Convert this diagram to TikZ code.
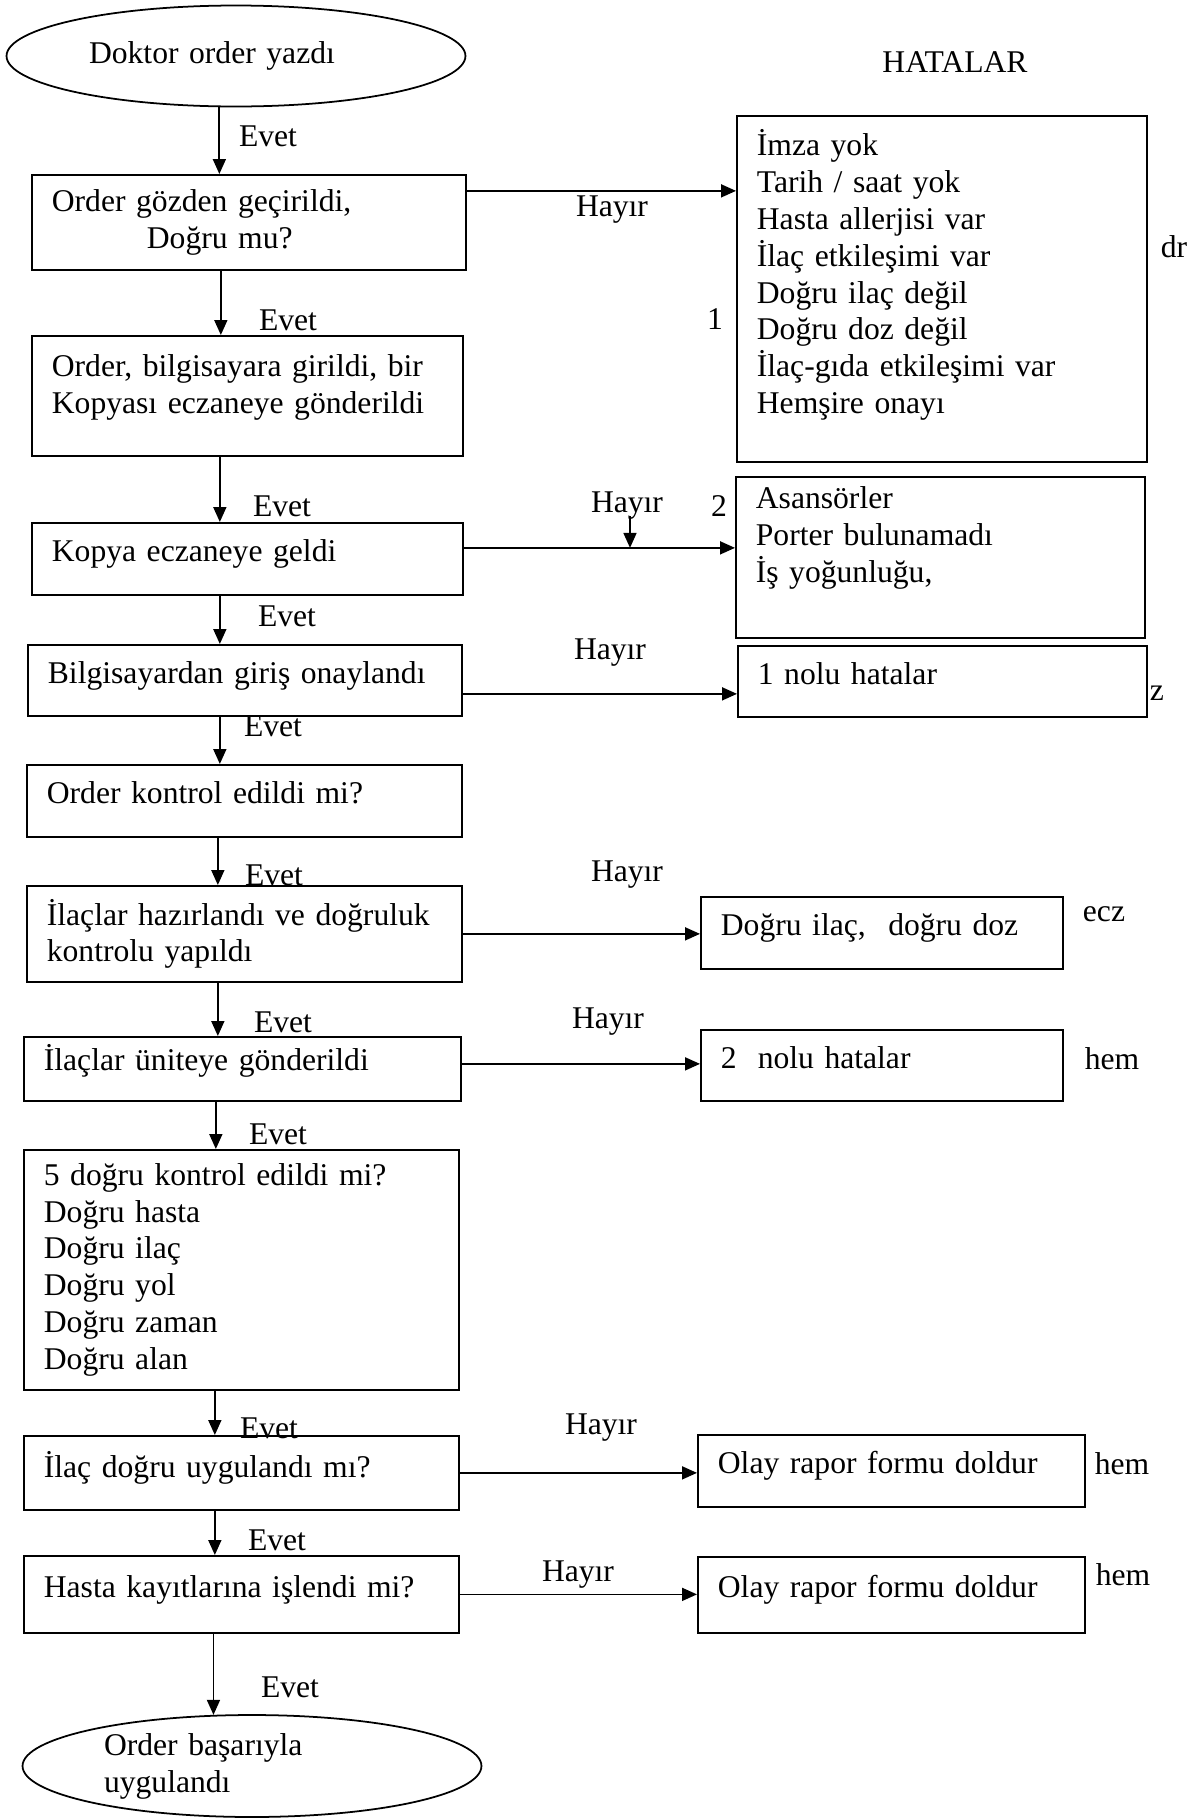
\documentclass[tikz,border=0pt]{standalone}
\usepackage{fontspec}
\setmainfont{Liberation Serif}
\usetikzlibrary{arrows.meta,positioning,shapes.geometric}

\begin{document}
\begin{tikzpicture}[
    x=0.02cm, y=-0.02cm,
    font=\fontsize{18}{21}\selectfont,
    box/.style={draw, line width=1pt, anchor=north west, align=left, inner xsep=0.4cm, inner ysep=0.1cm},
    onebox/.style={box, text depth=0.33cm},
    terminal/.style={draw, ellipse, line width=1pt, align=left, inner sep=0pt, minimum width=9.18cm},
    arr/.style={-{Triangle[length=3mm, width=2.6mm]}, line width=1pt},
    lbl/.style={inner sep=0pt}
]
\useasboundingbox (0,0) rectangle (1194,1819);

% main column
\node[terminal, text width=5.88cm, minimum height=2.02cm] (start) at (236,56) {Doktor order yazdı};
\node[box, text width=7.88cm, minimum height=1.90cm] (gozden) at (31,174) {Order gözden geçirildi,\\\hspace*{1.9cm}Doğru mu?};
\node[box, text width=7.82cm, minimum height=2.40cm, text depth=1.22cm] (girildi) at (31,335) {Order, bilgisayara girildi, bir\\Kopyası eczaneye gönderildi};
\node[onebox, text width=7.82cm, minimum height=1.44cm] (kopya) at (31,522) {Kopya eczaneye geldi};
\node[onebox, text width=7.88cm, minimum height=1.42cm] (onay) at (27,644) {Bilgisayardan giriş onaylandı};
\node[onebox, text width=7.90cm, minimum height=1.44cm] (kontrol) at (26,764) {Order kontrol edildi mi?};
\node[box, text width=7.90cm, minimum height=1.92cm] (hazir) at (26,885) {İlaçlar hazırlandı ve doğruluk\\kontrolu yapıldı};
\node[onebox, text width=7.94cm, minimum height=1.28cm, text depth=0.45cm] (unite) at (23,1036) {İlaçlar üniteye gönderildi};
\node[box, text width=7.90cm, minimum height=4.80cm] (besdogru) at (23,1149) {5 doğru kontrol edildi mi?\\Doğru hasta\\Doğru ilaç\\Doğru yol\\Doğru zaman\\Doğru alan};
\node[onebox, text width=7.90cm, minimum height=1.48cm] (uygula) at (23,1435) {İlaç doğru uygulandı mı?};
\node[onebox, text width=7.90cm, minimum height=1.54cm] (kayit) at (23,1555) {Hasta kayıtlarına işlendi mi?};
\node[terminal, text width=5.92cm, minimum height=2.04cm] (bitti) at (252,1766) {Order başarıyla\\uygulandı};

% error column
\node[lbl] (hatalar) at (955,62) {HATALAR};
\node[box, text width=7.40cm, inner ysep=0.27cm] (hata1) at (736,115) {\parbox[c][6.38cm][t]{7.40cm}{İmza yok\\Tarih / saat yok\\Hasta allerjisi var\\İlaç etkileşimi var\\Doğru ilaç değil\\Doğru doz değil\\İlaç-gıda etkileşimi var\\Hemşire onayı}};
\node[box, text width=7.38cm, inner ysep=0.2cm] (hata2) at (735,476) {\parbox[c][2.82cm][t]{7.38cm}{Asansörler\\Porter bulunamadı\\İş yoğunluğu,}};
\node[onebox, text width=7.38cm, minimum height=1.42cm] (nolu1) at (737,645) {1 nolu hatalar};
\node[onebox, text width=6.44cm, minimum height=1.44cm] (ilacdoz) at (700,896) {Doğru ilaç,\hspace{0.45cm}doğru doz};
\node[onebox, text width=6.44cm, minimum height=1.42cm] (nolu2) at (700,1029) {2\ \ nolu hatalar};
\node[onebox, text width=6.94cm, minimum height=1.44cm] (rapor1) at (697,1434) {Olay rapor formu doldur};
\node[onebox, text width=6.94cm, minimum height=1.52cm] (rapor2) at (697,1556) {Olay rapor formu doldur};

% side notes
\node[lbl] (dr) at (1174,247) {dr};
\node[lbl] (bir) at (715,319) {1};
\node[lbl] (iki) at (719,506) {2};
\node[lbl] (ezz) at (1157,693) {z};
\node[lbl] (ecz) at (1104,914) {ecz};
\node[lbl] (hem1) at (1112,1059) {hem};
\node[lbl] (hem2) at (1122,1464) {hem};
\node[lbl] (hem3) at (1123,1575) {hem};

% Evet labels
\node[lbl] (ev1) at (268,136) {Evet};
\node[lbl] (ev2) at (288,320) {Evet};
\node[lbl] (ev3) at (282,506) {Evet};
\node[lbl] (ev4) at (287,616) {Evet};
\node[lbl] (ev5) at (273,726) {Evet};
\node[lbl] (ev6) at (274,875) {Evet};
\node[lbl] (ev7) at (283,1022) {Evet};
\node[lbl] (ev8) at (278,1134) {Evet};
\node[lbl] (ev9) at (269,1428) {Evet};
\node[lbl] (ev10) at (277,1540) {Evet};
\node[lbl] (ev11) at (290,1687) {Evet};

% Hayir labels
\node[lbl] (hy1) at (612,210) {Hayır};
\node[lbl] (hy2) at (627,506) {Hayır};
\node[lbl] (hy3) at (610,653) {Hayır};
\node[lbl] (hy4) at (627,875) {Hayır};
\node[lbl] (hy5) at (608,1022) {Hayır};
\node[lbl] (hy6) at (601,1428) {Hayır};
\node[lbl] (hy7) at (578,1575) {Hayır};

% yes flow
\draw[arr] (start.252) -- (start.252 |- gozden.north);
\draw[arr] ([xshift=-0.56cm]gozden.south) -- ([xshift=-0.56cm]gozden.south |- girildi.north);
\draw[arr] ([xshift=-0.55cm]girildi.south) -- ([xshift=-0.55cm]girildi.south |- kopya.north);
\draw[arr] ([xshift=-0.55cm]kopya.south) -- ([xshift=-0.55cm]kopya.south |- onay.north);
\draw[arr] ([xshift=-0.50cm]onay.south) -- ([xshift=-0.50cm]onay.south |- kontrol.north);
\draw[arr] ([xshift=-0.53cm]kontrol.south) -- ([xshift=-0.53cm]kontrol.south |- hazir.north);
\draw[arr] ([xshift=-0.53cm]hazir.south) -- ([xshift=-0.53cm]hazir.south |- unite.north);
\draw[arr] ([xshift=-0.53cm]unite.south) -- ([xshift=-0.53cm]unite.south |- besdogru.north);
\draw[arr] ([xshift=-0.53cm]besdogru.south) -- ([xshift=-0.53cm]besdogru.south |- uygula.north);
\draw[arr] ([xshift=-0.53cm]uygula.south) -- ([xshift=-0.53cm]uygula.south |- kayit.north);
\draw[arr] (bitti.127 |- kayit.south) -- (bitti.127);

% no flow
\coordinate (r3) at ([yshift=0.22cm]kopya.east);
\coordinate (drop) at (630,516);
\draw[arr] ([yshift=0.63cm]gozden.east) -- ([yshift=0.63cm]gozden.east -| hata1.west);
\draw[arr] (r3) -- (r3 -| hata2.west);
\draw[arr] (drop) -- (drop |- r3);
\draw[arr] ([yshift=-0.27cm]onay.east) -- ([yshift=-0.27cm]onay.east -| nolu1.west);
\draw[arr] (hazir.east) -- (hazir.east -| ilacdoz.west);
\draw[arr] ([yshift=0.1cm]unite.east) -- ([yshift=0.1cm]unite.east -| nolu2.west);
\draw[arr] (uygula.east) -- (uygula.east -| rapor1.west);
\draw[arr] (kayit.east) -- (kayit.east -| rapor2.west);
\end{tikzpicture}
\end{document}
